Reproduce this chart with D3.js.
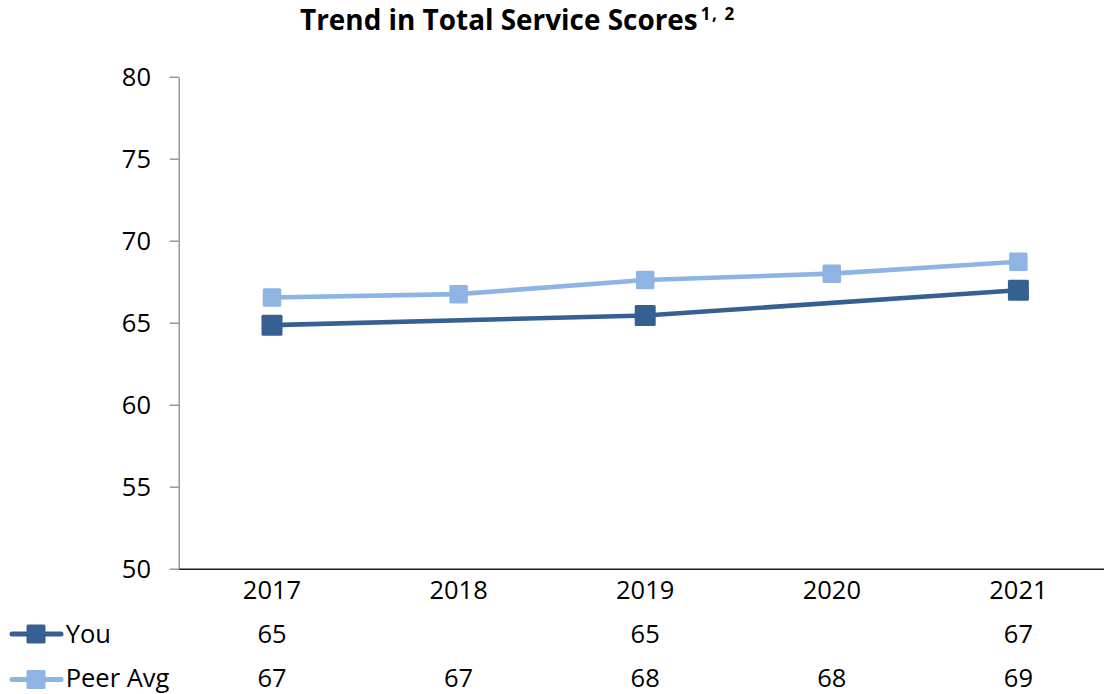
<!DOCTYPE html>
<html>
<head>
<meta charset="utf-8">
<script src="https://cdn.jsdelivr.net/npm/d3@7"></script>
<style>
  html, body { margin: 0; padding: 0; background: #fff; }
  svg { display: block; font-family: "Open Sans", Lato, sans-serif; }
</style>
</head>
<body>
<svg id="chart" width="1104" height="694"></svg>
<script>
// Chart data
const years = ["2017", "2018", "2019", "2020", "2021"];
const youScores = [64.85, null, 65.44, null, 66.98];
const peerScores = [66.54, 66.74, 67.60, 67.99, 68.72];
const yTicks = [50, 55, 60, 65, 70, 75, 80];
const seriesNames = ["You", "Peer Avg"];
const titleText = "Trend in Total Service Scores";
const titleNotes = "1, 2";

const colors = { "You": "#376092", "Peer Avg": "#8DB4E3" };
const markerSize = { "You": 21, "Peer Avg": 18.5 };
const labelFont = 25.5;

const svg = d3.select("#chart");

const plot = { left: 178.7, right: 1111.7, top: 76.7, bottom: 568.7 };

const x = d3.scaleBand().domain(years).range([plot.left, plot.right]).paddingInner(0).paddingOuter(0);
const cx = d => x(d) + x.bandwidth() / 2;
const y = d3.scaleLinear().domain([50, 80]).range([plot.bottom, plot.top]);

// Title with superscript footnote markers
const title = svg.append("text")
  .attr("x", 300)
  .attr("y", 30)
  .attr("font-weight", "bold")
  .attr("font-size", 27.9)
  .attr("fill", "#000");
title.append("tspan").text(titleText);
title.append("tspan")
  .attr("font-size", 17)
  .attr("letter-spacing", 1.6)
  .attr("dy", -10)
  .attr("dx", 3)
  .text(titleNotes);

// Y axis
const yAxis = svg.append("g")
  .attr("transform", `translate(${plot.left},0)`)
  .call(d3.axisLeft(y).tickValues(yTicks).tickSize(9).tickSizeOuter(0).tickPadding(18.7).tickFormat(d3.format("d")));
yAxis.select(".domain").attr("stroke", "#888").attr("stroke-width", 1.3);
yAxis.selectAll(".tick line").attr("stroke", "#888").attr("stroke-width", 1.3);
yAxis.selectAll(".tick text")
  .attr("font-size", labelFont)
  .attr("font-family", "'Open Sans', sans-serif")
  .attr("fill", "#000")
  .attr("dy", "0.36em");

// X axis
const xAxis = svg.append("g")
  .attr("transform", `translate(0,${plot.bottom})`)
  .call(d3.axisBottom(x).tickSize(0).tickSizeOuter(0));
xAxis.select(".domain").attr("stroke", "#1a1a1a").attr("stroke-width", 1.4);
xAxis.selectAll(".tick text")
  .attr("font-size", labelFont)
  .attr("font-family", "'Open Sans', sans-serif")
  .attr("fill", "#000")
  .attr("y", 30.6)
  .attr("dy", 0);

// Series lines and markers
const series = [
  { name: "You", values: youScores },
  { name: "Peer Avg", values: peerScores }
];

const line = d3.line().x(d => cx(d.year)).y(d => y(d.value));

series.slice().reverse().forEach(s => {
  const pts = years.map((yr, i) => ({ year: yr, value: s.values[i] })).filter(d => d.value != null);
  svg.append("path")
    .datum(pts)
    .attr("fill", "none")
    .attr("stroke", colors[s.name])
    .attr("stroke-width", 4.6)
    .attr("stroke-linejoin", "round")
    .attr("d", line);
  const sz = markerSize[s.name];
  svg.append("g").selectAll("rect")
    .data(pts)
    .join("rect")
    .attr("x", d => cx(d.year) - sz / 2)
    .attr("y", d => y(d.value) - sz / 2)
    .attr("width", sz)
    .attr("height", sz)
    .attr("rx", 1.5)
    .attr("fill", colors[s.name]);
});

// Data table beneath the axis with legend keys
const rowBaseline = { "You": 643.3, "Peer Avg": 687.3 };
const rowCenter = { "You": 634, "Peer Avg": 679.5 };
const fmt = d3.format(".0f");

series.forEach(s => {
  const g = svg.append("g");
  const yc = rowCenter[s.name];
  g.append("line")
    .attr("x1", 12).attr("x2", 61)
    .attr("y1", yc).attr("y2", yc)
    .attr("stroke", colors[s.name])
    .attr("stroke-width", 5)
    .attr("stroke-linecap", "round");
  const sz = 19;
  g.append("rect")
    .attr("x", 36 - sz / 2).attr("y", yc - sz / 2)
    .attr("width", sz).attr("height", sz)
    .attr("rx", 1.5)
    .attr("fill", colors[s.name]);
  g.append("text")
    .attr("x", 65.7).attr("y", rowBaseline[s.name])
    .attr("font-size", labelFont)
    .attr("fill", "#000")
    .text(s.name);
  g.selectAll("text.val")
    .data(years.map((yr, i) => ({ year: yr, value: s.values[i] })).filter(d => d.value != null))
    .join("text")
    .attr("class", "val")
    .attr("x", d => cx(d.year))
    .attr("y", rowBaseline[s.name])
    .attr("text-anchor", "middle")
    .attr("font-size", labelFont)
    .attr("fill", "#000")
    .text(d => fmt(d.value));
});
</script>
</body>
</html>
